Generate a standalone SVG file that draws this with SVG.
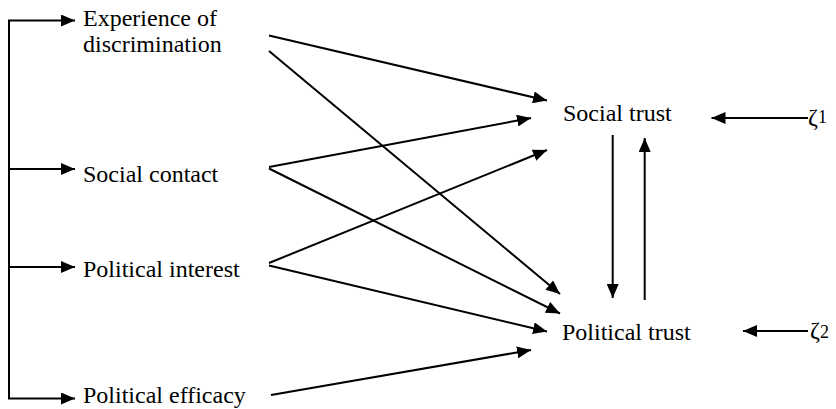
<svg xmlns="http://www.w3.org/2000/svg" width="836" height="409" viewBox="0 0 836 409">
<style>
.t{font-family:'Liberation Serif','Times New Roman',Times,serif;font-size:24px;fill:#000}
.sub{font-size:18px}
.c{stroke:#000;stroke-width:2;fill:none}
.a{marker-end:url(#ah)}
</style>
<defs>
<marker id="ah" markerUnits="userSpaceOnUse" markerWidth="14" markerHeight="12" refX="14" refY="6" orient="auto">
<path d="M0,0 L14,6 L0,12 z" fill="#000"/>
</marker>
</defs>
<rect width="836" height="409" fill="#fff"/>
<g id="connectors">
<path class="c" d="M9,20.5 V398.5"/>
<line class="c a" x1="8" y1="20.5" x2="75" y2="20.5"/>
<line class="c a" x1="9" y1="169" x2="75" y2="169"/>
<line class="c a" x1="9" y1="267" x2="75" y2="267"/>
<line class="c a" x1="8" y1="398.5" x2="75" y2="398.5"/>
<line class="c a" x1="269" y1="35.5" x2="547" y2="100.5"/>
<line class="c a" x1="269" y1="51" x2="560" y2="294"/>
<line class="c a" x1="269" y1="167" x2="531" y2="118"/>
<line class="c a" x1="269" y1="168.5" x2="560" y2="313.5"/>
<line class="c a" x1="269" y1="263" x2="547" y2="150"/>
<line class="c a" x1="269" y1="265.5" x2="547" y2="331.5"/>
<line class="c a" x1="271" y1="395" x2="531" y2="350"/>
<line class="c a" x1="612.7" y1="135" x2="612.7" y2="298"/>
<line class="c a" x1="644.7" y1="300" x2="644.7" y2="138"/>
<line class="c a" x1="808" y1="118" x2="711.5" y2="118"/>
<line class="c a" x1="808" y1="331" x2="743" y2="331"/>
</g>
<g font-family="Liberation Serif, Times New Roman, serif" font-size="24">
<g id="experience"><text class="t" x="83" y="26">Experience of</text><text class="t" x="83" y="52">discrimination</text></g>
<g id="social-contact"><text class="t" x="83" y="182">Social contact</text></g>
<g id="political-interest"><text class="t" x="83" y="276.5">Political interest</text></g>
<g id="political-efficacy"><text class="t" x="83" y="402.5">Political efficacy</text></g>
<g id="social-trust"><text class="t" x="563" y="121">Social trust</text></g>
<g id="political-trust"><text class="t" x="562" y="340">Political trust</text></g>
<g id="zeta1"><text class="t" x="808" y="125">ζ<tspan class="sub" dy="-2">1</tspan></text></g>
<g id="zeta2"><text class="t" x="810" y="338">ζ<tspan class="sub" dy="0">2</tspan></text></g>
</g>
</svg>
